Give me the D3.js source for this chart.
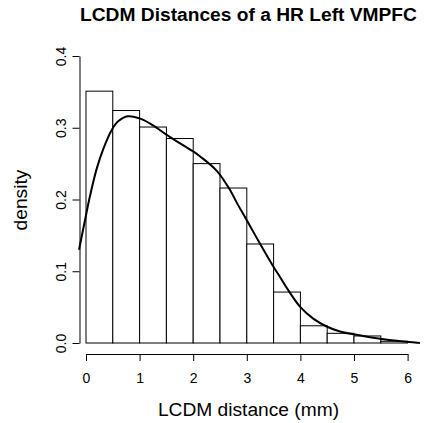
<!DOCTYPE html>
<html>
<head>
<meta charset="utf-8">
<script src="https://cdn.jsdelivr.net/npm/d3@7"></script>
<style>
  body { margin: 0; background: #fff; }
  svg { display: block; font-family: "Liberation Sans", Arial, Helvetica, sans-serif; }
</style>
</head>
<body>
<svg width="424" height="423"></svg>
<script>
// histogram bins (mm) and their densities
var binStart = [0, 0.5, 1, 1.5, 2, 2.5, 3, 3.5, 4, 4.5, 5, 5.5];
var binEnd   = [0.5, 1, 1.5, 2, 2.5, 3, 3.5, 4, 4.5, 5, 5.5, 6];
var binDensity = [0.351, 0.324, 0.301, 0.285, 0.250, 0.216, 0.138, 0.071, 0.024, 0.0135, 0.0098, 0.0024];

// kernel density estimate
var kdeX = [-0.13, 0, 0.06, 0.2, 0.32, 0.48, 0.6, 0.78, 1.0, 1.19, 1.57, 2.0, 2.13, 2.44, 2.69, 2.81,
            3.0, 3.25, 3.5, 3.62, 3.77, 4.0, 4.24, 4.49, 4.74, 5.17, 5.49, 5.8, 6.23];
var kdeY = [0.13, 0.178, 0.20, 0.243, 0.27, 0.297, 0.309, 0.316, 0.313, 0.306, 0.287, 0.267, 0.26, 0.240, 0.213, 0.196,
            0.171, 0.138, 0.106, 0.092, 0.074, 0.05, 0.034, 0.023, 0.016, 0.0098, 0.0060, 0.0030, 0.0];

var xTicks = [0, 1, 2, 3, 4, 5, 6];
var yTicks = [0, 0.1, 0.2, 0.3, 0.4];

var svg = d3.select('svg');

var x = d3.scaleLinear().domain([0, 6]).range([86, 407.6]);
var y = d3.scaleLinear().domain([0, 0.4]).range([343, 56]);

// bars
svg.append('g')
  .selectAll('rect')
  .data(binDensity)
  .enter()
  .append('rect')
  .attr('x', (d, i) => x(binStart[i]))
  .attr('width', (d, i) => x(binEnd[i]) - x(binStart[i]))
  .attr('y', d => y(d))
  .attr('height', d => y(0) - y(d))
  .attr('fill', 'white')
  .attr('stroke', 'black')
  .attr('stroke-width', 1);

// density curve
var line = d3.line()
  .x((d, i) => x(kdeX[i]))
  .y(d => y(d))
  .curve(d3.curveCatmullRom);

svg.append('path')
  .datum(kdeY)
  .attr('d', line)
  .attr('fill', 'none')
  .attr('stroke', 'black')
  .attr('stroke-width', 2);

// x axis
var xAxis = svg.append('g')
  .attr('transform', 'translate(0,354)')
  .call(d3.axisBottom(x).tickValues(xTicks).tickFormat(d3.format('d')).tickSize(7).tickSizeOuter(0));
xAxis.attr('font-family', null);
xAxis.selectAll('text')
  .style('font-size', '14px')
  .attr('fill', 'black')
  .attr('dy', null)
  .attr('y', 28.5);

// y axis
var yAxis = svg.append('g')
  .attr('transform', 'translate(79.5,0)')
  .call(d3.axisLeft(y).tickValues(yTicks).tickFormat(d3.format('.1f')).tickSize(7).tickSizeOuter(0));
yAxis.attr('font-family', null);
yAxis.selectAll('text')
  .style('font-size', '14px')
  .attr('fill', 'black')
  .attr('dy', null)
  .attr('x', null)
  .attr('text-anchor', 'middle')
  .attr('transform', 'translate(-14,0) rotate(-90)');

// labels
svg.append('text')
  .attr('x', 248.5)
  .attr('y', 21)
  .attr('text-anchor', 'middle')
  .style('font-size', '19.2px')
  .style('font-weight', 'bold')
  .text('LCDM Distances of a HR Left VMPFC');

svg.append('text')
  .attr('x', 248.5)
  .attr('y', 415.5)
  .attr('text-anchor', 'middle')
  .style('font-size', '19.2px')
  .text('LCDM distance (mm)');

svg.append('text')
  .attr('transform', 'translate(26.5,200) rotate(-90)')
  .attr('text-anchor', 'middle')
  .style('font-size', '19.2px')
  .text('density');
</script>
</body>
</html>
